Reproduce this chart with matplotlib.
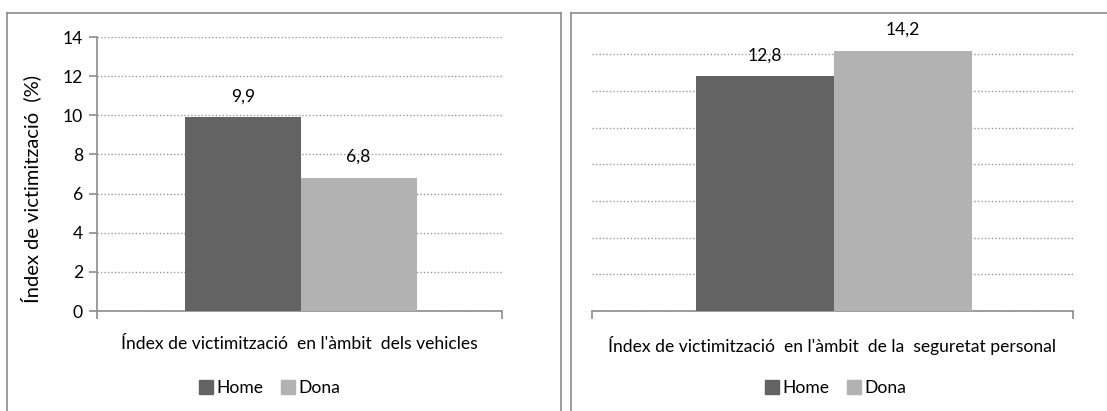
import matplotlib.pyplot as plt
from matplotlib.lines import Line2D
from matplotlib.patches import Patch

plt.rcParams['font.family'] = ['Lato', 'DejaVu Sans']

series = ['Home', 'Dona']
colors = ['#636363', '#b2b2b2']
categories = ["Índex de victimització  en l'àmbit  dels vehicles",
              "Índex de victimització  en l'àmbit  de la  seguretat personal"]
values_left = [9.9, 6.8]
values_right = [12.8, 14.2]
ylims = [14, 16]
yticks = [0, 2, 4, 6, 8, 10, 12, 14]

W, H = 1107, 411
fs = 12.6
fig = plt.figure(figsize=[W / 100, H / 100], dpi=100)

# panel frames (pixel coords -> figure fraction)
frame_col = '#8c8c8c'
for x0, x1 in [(7, 561), (571, 1120)]:
    fig.add_artist(Line2D([x0 / W, x0 / W], [1 - 13 / H, -0.1],
                          color=frame_col, lw=1.2))
    fig.add_artist(Line2D([x0 / W, x1 / W], [1 - 13 / H, 1 - 13 / H],
                          color=frame_col, lw=1.2))
    fig.add_artist(Line2D([x1 / W, x1 / W], [1 - 13 / H, -0.1],
                          color=frame_col, lw=1.2))

axes_px = [(97, 502, ylims[0], (311 - 37) / 14),
           (592, 1073, ylims[1], (311 - 50.7) / 14.2)]
bar_w = 0.286

for i, (vals, (xl, xr, ymax, ppu)) in enumerate(
        zip([values_left, values_right], axes_px)):
    top_px = 311 - ymax * ppu
    ax = fig.add_axes([xl / W, 1 - 311 / H, (xr - xl) / W,
                       (311 - top_px) / H])
    ax.set_xlim(-0.5, 0.5)
    ax.set_ylim(0, ymax)
    for j, v in enumerate(vals):
        xc = (j - 0.5) * bar_w + 0.003
        ax.bar(xc, v, width=bar_w, color=colors[j], zorder=3)
        ax.annotate(f'{v:.1f}'.replace('.', ','), (xc, v),
                    xytext=(0, 21), textcoords='offset pixels',
                    ha='center', va='center', fontsize=fs, zorder=4)
    ax.set_yticks(yticks)
    ax.grid(axis='y', linestyle=(0, (1, 1.5)), color='#9a9a9a', lw=1,
            zorder=0)
    ax.set_xticks([0])
    ax.set_xticklabels([categories[i]], fontsize=fs)
    ax.set_xticks([-0.5, 0.5], minor=True)
    ax.tick_params(axis='x', which='major', length=0, pad=18)
    ax.tick_params(axis='x', which='minor', length=6, color=frame_col,
                   width=1.2)
    for s in ['top', 'right']:
        ax.spines[s].set_visible(False)
    ax.spines['bottom'].set_color(frame_col)
    ax.spines['bottom'].set_linewidth(1.2)
    if i == 0:
        ax.spines['left'].set_color(frame_col)
        ax.spines['left'].set_linewidth(1.2)
        ax.tick_params(axis='y', length=6, color=frame_col, width=1.2,
                       labelsize=fs, pad=4)
        fig.text(31 / W, 1 - 189 / H, 'Índex de victimització  (%)',
                 rotation=90, ha='center', va='center', fontsize=14.5)
        leg_x = 270 / W
    else:
        ax.spines['left'].set_visible(False)
        ax.tick_params(axis='y', length=0, labelleft=False)
        leg_x = 836 / W
    handles = [Patch(color=c, label=s) for c, s in zip(colors, series)]
    fig.legend(handles=handles, loc='center', ncol=2,
               bbox_to_anchor=(leg_x, 1 - 388 / H), frameon=False,
               fontsize=fs, handlelength=0.8, handleheight=0.8,
               handletextpad=0.2, columnspacing=1.0)

plt.savefig('out.png', dpi=100)
plt.close(fig)
